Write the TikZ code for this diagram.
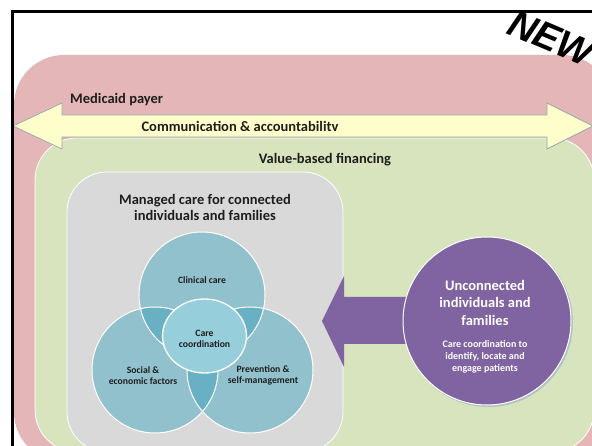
\documentclass[tikz,border=0pt]{standalone}
\usepackage{fontspec}
\setmainfont{Carlito}
\newfontfamily\newfnt{Liberation Sans}
\definecolor{pinkc}{HTML}{E5B6B7}
\definecolor{greenc}{HTML}{D8E4BE}
\definecolor{yellowc}{HTML}{FEFECB}
\definecolor{grayc}{HTML}{D9D9D9}
\definecolor{vennc}{HTML}{92C1CE}
\definecolor{venndark}{HTML}{6AB0C4}
\definecolor{centerc}{HTML}{96CEDC}
\definecolor{purplec}{HTML}{8063A1}
\definecolor{edgec}{HTML}{8FA9AE}
\definecolor{textc}{HTML}{1E1E1E}
\begin{document}
\begin{tikzpicture}[x=1pt,y=-1pt,
  lbl/.style={font=\fontsize{14.5}{16}\selectfont\bfseries, text=textc, inner sep=0pt},
  small/.style={font=\fontsize{9.7}{11}\selectfont\bfseries, text=textc, align=center, inner sep=0pt},
  wsmall/.style={font=\fontsize{10}{12}\selectfont\bfseries, text=white, align=center, inner sep=0pt},
  wbig/.style={font=\fontsize{14.5}{17.5}\selectfont\bfseries, text=white, align=center, inner sep=0pt},
  newl/.style={font=\newfnt\fontsize{38}{38}\selectfont\bfseries\itshape, inner sep=0pt}]
\useasboundingbox (0,0) rectangle (592,446);
\clip (0,0) rectangle (592,446);
\fill[white] (0,0) rectangle (592,446);
% Medicaid payer (pink)
\fill[pinkc, rounded corners=50pt] (14,55) rectangle (612,462);
% value-based financing (green)
\draw[fill=greenc, draw=white, line width=0.8pt, rounded corners=42pt] (35,138) rectangle (594,452);
% yellow double arrow
\path[fill=yellowc, draw=edgec, line width=0.7pt] (13,126) -- (62,103) -- (62,115) -- (547,115) -- (547,103) -- (593,126) -- (547,149) -- (547,137) -- (62,137) -- (62,149) -- cycle;
% managed care (gray)
\draw[fill=grayc, draw=white, line width=0.8pt, rounded corners=40pt] (67,172) rectangle (343,452);
% Venn
\coordinate (T) at (202,295);
\coordinate (L) at (155,370);
\coordinate (R) at (250,370);
\fill[vennc] (T) circle (63);
\fill[vennc] (L) circle (63);
\fill[vennc] (R) circle (63);
\begin{scope}
  \clip (T) circle (63);
  \fill[venndark] (L) circle (63);
  \fill[venndark] (R) circle (63);
\end{scope}
\begin{scope}
  \clip (L) circle (63);
  \fill[venndark] (R) circle (63);
\end{scope}
\draw[white, line width=1pt] (T) circle (63) (L) circle (63) (R) circle (63);
\draw[fill=centerc, draw=white, line width=1.3pt] (204.5,336) ellipse [x radius=42, y radius=37];
% purple arrow and circle
\fill[purplec] (322,321) -- (344,276) -- (344,297) -- (425,297) -- (425,344) -- (344,344) -- (344,367) -- cycle;
\fill[edgec!70] (488.5,322.5) circle (84.5);
\draw[fill=purplec, draw=white, line width=1pt] (487,321) circle (84);
% texts
\node[lbl, anchor=base west] (medicaid) at (70,104) {Medicaid payer};
\node[lbl, anchor=base] (comm) at (240,132) {Communication \& accountabilitv};
\node[lbl, anchor=base] (vbf) at (325,163.5) {Value-based financing};
\node[lbl, align=center, font=\fontsize{14.5}{16.7}\selectfont\bfseries] (mc) at (205,207.5) {Managed care for connected\\individuals and families};
\node[small] (clin) at (202,280) {Clinical care};
\node[small] (coord) at (204.5,338.5) {Care\\coordination};
\node[small] (social) at (143,375.5) {Social \&\\economic factors};
\node[small] (prev) at (263,375.5) {Prevention \&\\self-management};
\node[wbig] (unc) at (485,302.5) {Unconnected\\individuals and\\families};
\node[wsmall] (ccid) at (485,357) {Care coordination to\\identify, locate and\\engage patients};
% NEW
\node[newl, rotate=-23, anchor=west] (newtxt) at (510,21) {NEW};
% frame
\draw[line width=3pt] (12,470) -- (12,12) -- (620,12);
\end{tikzpicture}
\end{document}
